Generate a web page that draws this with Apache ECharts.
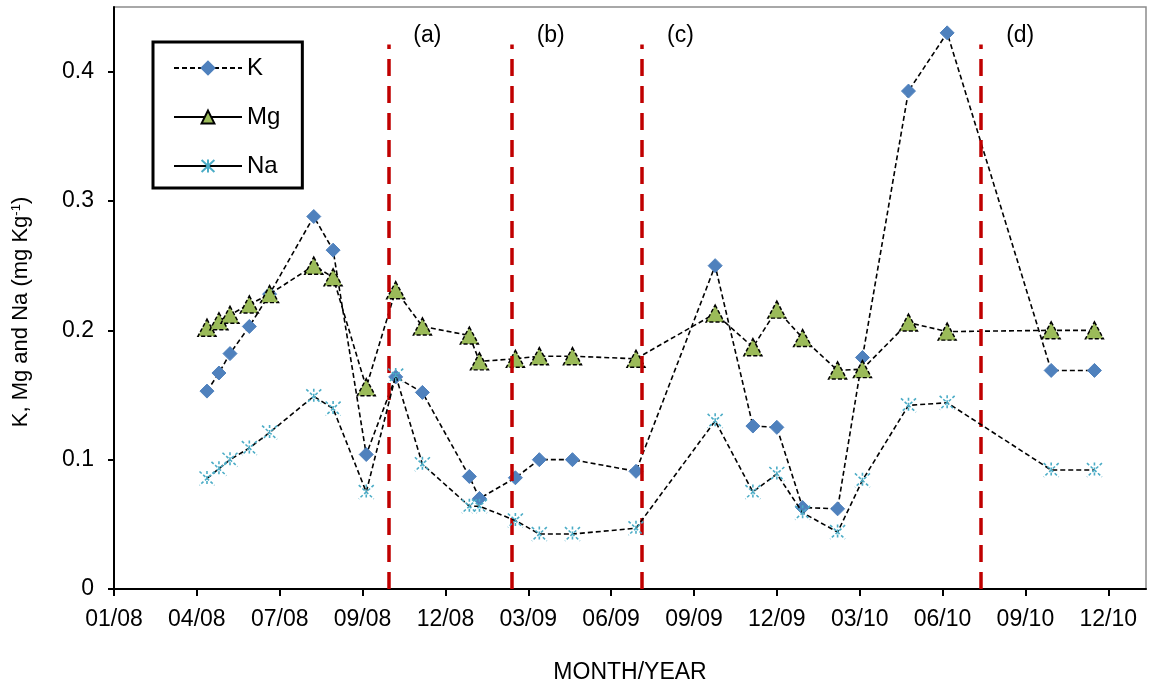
<!DOCTYPE html>
<html>
<head>
<meta charset="utf-8">
<script src="https://cdn.jsdelivr.net/npm/echarts@6/dist/echarts.min.js"></script>
<style>
  html, body { margin: 0; padding: 0; background: #ffffff; }
  #chart { width: 1150px; height: 689px; }
</style>
</head>
<body>
<div id="chart"></div>
<script>
// Sampling dates and measured concentrations (mg Kg-1)
const sampleDates = [
  '2008-04-13', '2008-04-26', '2008-05-08', '2008-05-29', '2008-06-20',
  '2008-08-07', '2008-08-28', '2008-10-03', '2008-11-04', '2008-12-03',
  '2009-01-23', '2009-02-03', '2009-03-14', '2009-04-09', '2009-05-15',
  '2009-07-23', '2009-10-17', '2009-11-27', '2009-12-23', '2010-01-20',
  '2010-02-27', '2010-03-26', '2010-05-15', '2010-06-26', '2010-10-17',
  '2010-12-03'
];
const kValues = [
  0.153, 0.167, 0.182, 0.203, 0.228, 0.288, 0.262, 0.104, 0.164, 0.152,
  0.087, 0.070, 0.086, 0.100, 0.100, 0.091, 0.250, 0.126, 0.125, 0.063,
  0.062, 0.179, 0.385, 0.430, 0.169, 0.169
];
const mgValues = [
  0.202, 0.207, 0.212, 0.220, 0.228, 0.250, 0.241, 0.156, 0.231, 0.203,
  0.196, 0.176, 0.178, 0.180, 0.180, 0.178, 0.213, 0.187, 0.216, 0.194,
  0.169, 0.170, 0.206, 0.199, 0.200, 0.200
];
const naValues = [
  0.0855, 0.093, 0.100, 0.109, 0.121, 0.149, 0.1395, 0.075, 0.165, 0.0965,
  0.064, 0.064, 0.053, 0.0425, 0.0425, 0.047, 0.130, 0.075, 0.089, 0.059,
  0.044, 0.084, 0.142, 0.144, 0.092, 0.092
];

// Date axis: ticks every 90 days from the axis origin
const axisOrigin = '2008-01-03';
const tickStepDays = 90;
const axisEndDays = 1121;
const tickLabels = [
  '01/08', '04/08', '07/08', '09/08', '12/08', '03/09', '06/09',
  '09/09', '12/09', '03/10', '06/10', '09/10', '12/10'
];
const yTickValues = [0, 0.1, 0.2, 0.3, 0.4];

// Period markers
const eventDates = ['2008-10-27', '2009-03-10', '2009-07-29', '2010-08-02'];
const eventLabels = ['(a)', '(b)', '(c)', '(d)'];
const eventLineTop = 0.421;

const FONT = '"Liberation Sans", Arial, sans-serif';

function dayOffset(s) {
  const [y, m, d] = s.split('-').map(Number);
  const [y0, m0, d0] = axisOrigin.split('-').map(Number);
  return Math.round((Date.UTC(y, m - 1, d) - Date.UTC(y0, m0 - 1, d0)) / 86400000);
}

const xDays = sampleDates.map(dayOffset);
const pairs = vals => vals.map((v, i) => [xDays[i], v]);
const tickDays = tickLabels.map((_, i) => i * tickStepDays);

const asteriskPath = 'path://M0,0L12,12M12,0L0,12M6,-0.5L6,12.5';

const eventLines = eventDates.map((d, i) => [
  { coord: [dayOffset(d), 0], name: eventLabels[i] },
  { coord: [dayOffset(d), eventLineTop] }
]);

const chart = echarts.init(document.getElementById('chart'), null, { renderer: 'canvas' });

chart.setOption({
  animation: false,
  backgroundColor: '#ffffff',
  textStyle: { fontFamily: FONT, color: '#000' },
  grid: {
    left: 114, right: 4, top: 7, bottom: 99,
    show: true, borderColor: '#8c8c8c', borderWidth: 1.5, backgroundColor: 'transparent'
  },
  legend: {
    orient: 'vertical',
    left: 153, top: 42,
    padding: [14, 22, 10, 20],
    borderColor: '#000', borderWidth: 3,
    backgroundColor: '#fff',
    itemWidth: 68, itemHeight: 16, itemGap: 25,
    textStyle: { fontSize: 24, fontFamily: FONT, color: '#000', lineHeight: 24 },
    data: [
      { name: 'K' },
      { name: 'Mg', lineStyle: { type: 'solid' }, itemStyle: { borderType: 'solid' } },
      { name: 'Na', lineStyle: { type: 'solid' }, itemStyle: { borderType: 'solid' } }
    ]
  },
  xAxis: {
    type: 'value',
    min: 0, max: axisEndDays,
    name: 'MONTH/YEAR',
    nameLocation: 'middle',
    nameGap: 72,
    nameTextStyle: { fontSize: 23, fontFamily: FONT, color: '#000' },
    axisLine: { show: true, onZero: false, lineStyle: { color: '#000', width: 2 } },
    axisTick: { show: true, inside: false, length: 7, customValues: tickDays, lineStyle: { color: '#000', width: 2 } },
    axisLabel: {
      customValues: tickDays,
      margin: 19,
      fontSize: 23, fontFamily: FONT, color: '#000',
      formatter: v => tickLabels[Math.round(v / tickStepDays)] || ''
    },
    splitLine: { show: false }
  },
  yAxis: {
    type: 'value',
    min: 0, max: 0.45,
    name: '{t|K, Mg and Na (mg Kg}{s|-1}{t|)}',
    nameLocation: 'middle',
    nameGap: 82,
    nameTextStyle: {
      fontFamily: FONT, color: '#000',
      padding: [0, 28, 0, 0],
      rich: {
        t: { fontSize: 22, fontFamily: FONT, color: '#000' },
        s: { fontSize: 13, fontFamily: FONT, color: '#000', verticalAlign: 'top', padding: [0, 0, 8, 0] }
      }
    },
    axisLine: { show: true, lineStyle: { color: '#000', width: 2 } },
    axisTick: { show: true, inside: false, length: 6, customValues: yTickValues, lineStyle: { color: '#000', width: 2 } },
    axisLabel: {
      customValues: yTickValues,
      margin: 20,
      fontSize: 23, fontFamily: FONT, color: '#000'
    },
    splitLine: { show: false }
  },
  series: [
    {
      name: 'K',
      type: 'line',
      data: pairs(kValues),
      symbol: 'diamond',
      symbolSize: 14,
      itemStyle: { color: '#4F81BD', borderColor: '#4F81BD', borderWidth: 1 },
      lineStyle: { color: '#000', width: 1.6, type: [5, 3] },
      z: 3,
      markLine: {
        silent: true,
        symbol: ['none', 'none'],
        lineStyle: { color: '#C00000', width: 3.5, type: [17, 10] },
        label: {
          show: true,
          position: 'end',
          formatter: p => p.name,
          offset: [39, 8],
          fontSize: 23, fontFamily: FONT, color: '#000'
        },
        emphasis: { disabled: true },
        data: eventLines
      }
    },
    {
      name: 'Mg',
      type: 'line',
      data: pairs(mgValues),
      symbol: 'triangle',
      symbolSize: [18, 17],
      itemStyle: { color: '#9BBB59', borderColor: '#000', borderWidth: 1.5, borderType: [4, 2] },
      lineStyle: { color: '#000', width: 1.6, type: [5, 3] },
      z: 4
    },
    {
      name: 'Na',
      type: 'line',
      data: pairs(naValues),
      symbol: asteriskPath,
      symbolSize: 15,
      itemStyle: { color: '#4BACC6', borderColor: '#4BACC6', borderWidth: 1.6, borderType: [3, 2] },
      lineStyle: { color: '#000', width: 1.6, type: [5, 3] },
      z: 5
    }
  ]
});
</script>
</body>
</html>
